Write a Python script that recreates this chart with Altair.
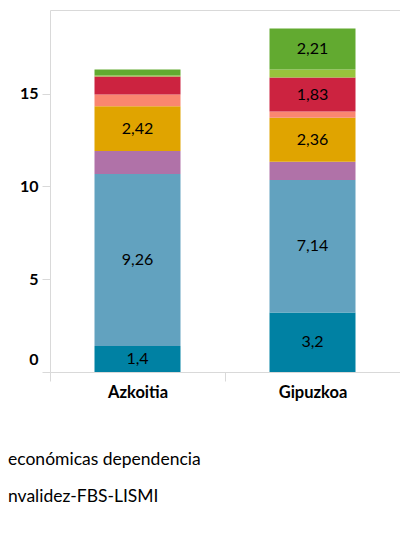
import altair as alt
import pandas as pd

places = ["Azkoitia", "Gipuzkoa"]
series = [
    "Pensiones contributivas",
    "Pensiones jubilación",
    "Pensiones viudedad",
    "Renta de Garantía de Ingresos",
    "Ayudas Emergencia Social",
    "Prestaciones económicas dependencia",
    "Pensiones no contributivas",
    "Pensiones invalidez-FBS-LISMI",
]
colors = ["#0081A3", "#62A2BF", "#B072A8", "#E0A400", "#FA8670", "#CC2340", "#98C43C", "#62AA30"]
azkoitia = [1.4, 9.26, 1.24, 2.42, 0.63, 0.97, 0.05, 0.32]
gipuzkoa = [3.2, 7.14, 0.99, 2.36, 0.34, 1.83, 0.43, 2.21]
legend_fragments = ["económicas dependencia", "nvalidez-FBS-LISMI"]

rows = []
for place, vals in zip(places, [azkoitia, gipuzkoa]):
    for i, (s, v) in enumerate(zip(series, vals)):
        rows.append({"place": place, "serie": s, "order": i, "value": v})
df = pd.DataFrame(rows)

FONT = "Lato"

x_enc = alt.X(
    "place:N",
    sort=places,
    scale=alt.Scale(paddingInner=0, paddingOuter=0),
    axis=alt.Axis(
        title=None, labelAngle=0, tickBand="extent", domainColor="#D9D9D9",
        tickColor="#D9D9D9", tickSize=9, labelFont=FONT, labelFontSize=16.5,
        labelFontWeight="bold", labelColor="#000000", labelPadding=3,
    ),
)

y_scale = alt.Scale(domain=[0, 19.5], nice=False)

base = alt.Chart(df)

bars = base.mark_bar(width=86).encode(
    x=x_enc,
    y=alt.Y(
        "value:Q",
        stack="zero",
        scale=y_scale,
        axis=alt.Axis(
            title=None, values=[0, 5, 10, 15], grid=False, domain=False,
            tickColor="#D9D9D9", tickSize=8, labelPadding=4, labelFont=FONT,
            labelFontSize=16, labelFontWeight="bold", labelColor="#000000",
            labelFlush=True, labelFlushOffset=-5,
        ),
    ),
    color=alt.Color("serie:N", scale=alt.Scale(domain=series, range=colors), legend=None),
    order=alt.Order("order:Q"),
)

labels = base.transform_window(
    cum="sum(value)", groupby=["place"], sort=[alt.SortField("order")]
).transform_calculate(
    mid="datum.cum - datum.value / 2",
    label="replace(toString(datum.value), '.', ',')",
).transform_filter("datum.value >= 1.3").mark_text(
    font=FONT, fontSize=16, color="#000000", baseline="middle"
).encode(
    x=alt.X("place:N", sort=places),
    y=alt.Y("mid:Q", scale=y_scale),
    text="label:N",
)

main = alt.layer(bars, labels)

leg_df = pd.DataFrame({"t": legend_fragments, "i": list(range(len(legend_fragments)))})
legend_text = alt.Chart(leg_df).mark_text(
    font=FONT, fontSize=17.5, color="#000000", align="left", baseline="middle"
).encode(
    x=alt.value(-42),
    y=alt.Y("i:Q", axis=None, scale=alt.Scale(domain=[0, 1], range=[450, 487])),
    text="t:N",
)

chart = alt.layer(main, legend_text).resolve_scale(y="independent").properties(
    width=350,
    height=362,
    autosize=alt.AutoSizeParams(type="none"),
    padding={"left": 42, "top": 2, "right": 0, "bottom": 140},
).configure_view(stroke="#D9D9D9")

chart.save("out.html", embed_options={"renderer": "svg", "actions": False})
